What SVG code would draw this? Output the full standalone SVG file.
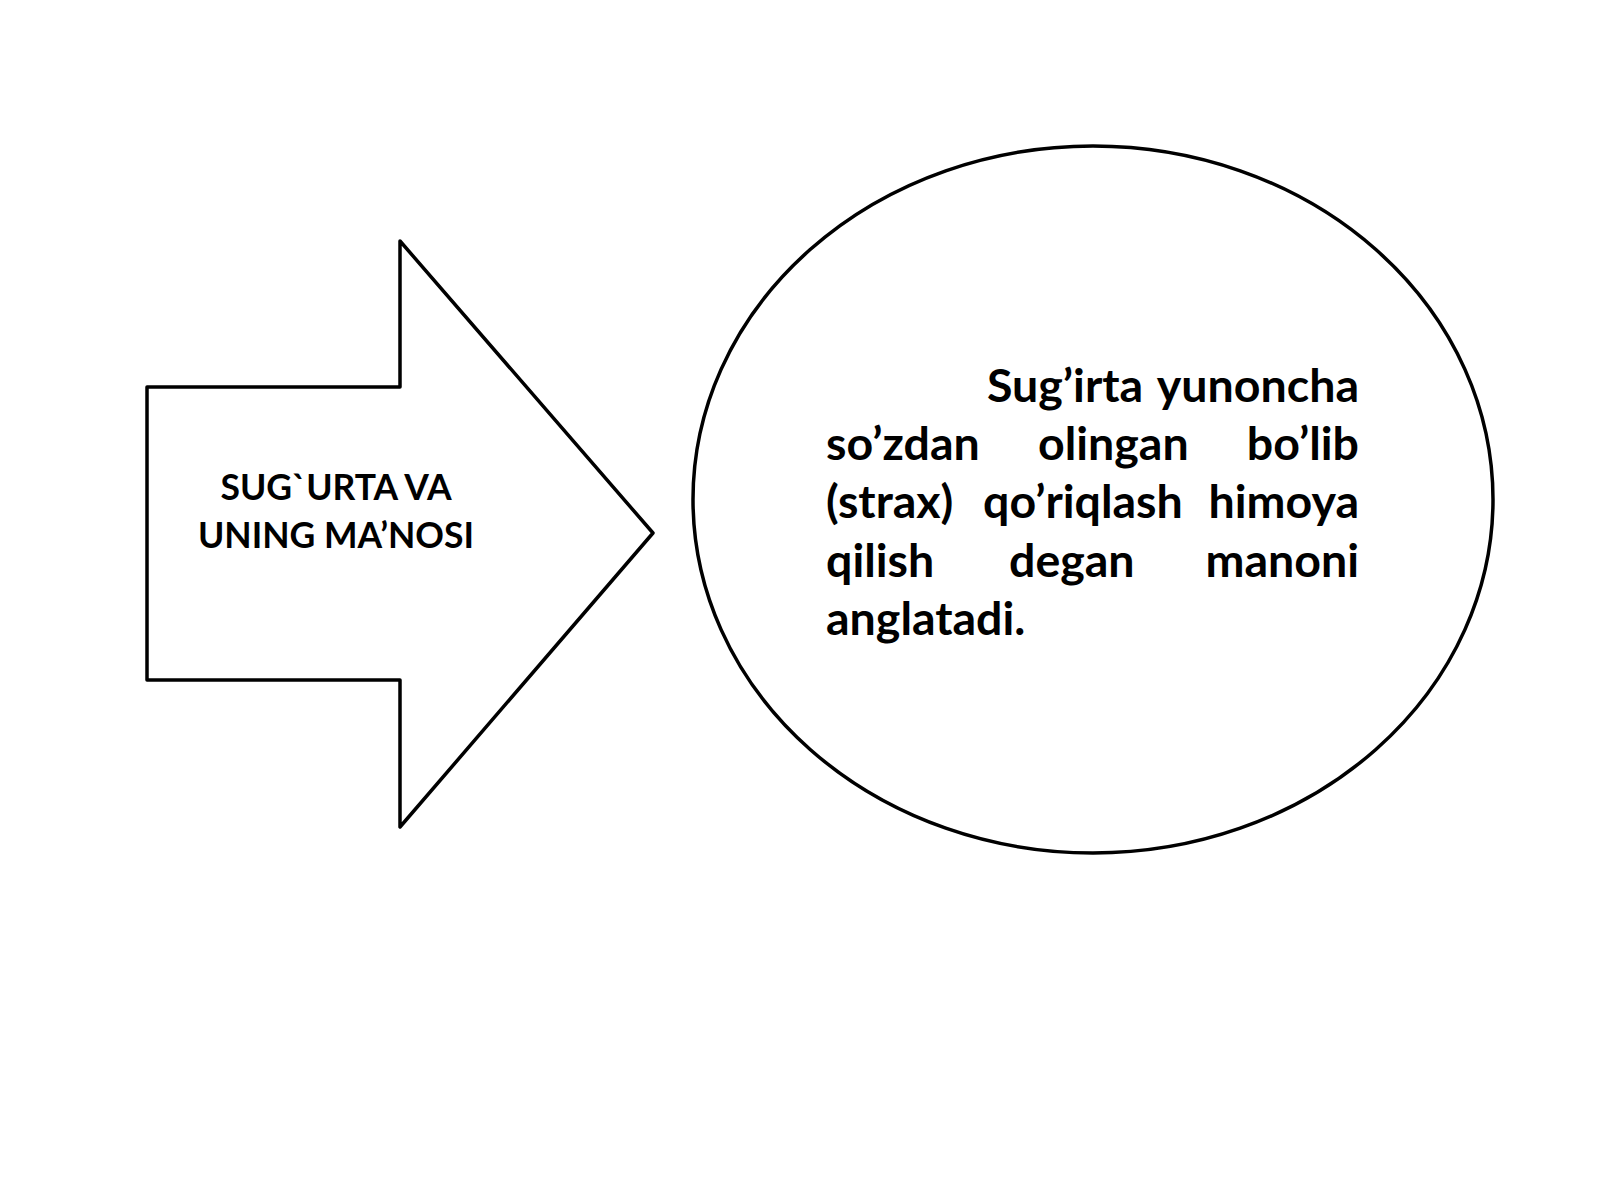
<svg xmlns="http://www.w3.org/2000/svg" width="1600" height="1200" viewBox="0 0 1600 1200">
<style>
.shape{fill:#ffffff;stroke:#000000;stroke-width:3.5;stroke-linejoin:round}
.lbl{font-family:Lato,"Liberation Sans",sans-serif;font-weight:bold;fill:#000000}
.l1{font-size:35.5px}
.l2{font-size:46.5px}
</style>
<rect width="1600" height="1200" fill="#ffffff"/>
<g id="arrow">
<polygon class="shape" points="147,387 400,387 400,241 653,533 400,827 400,680 147,680"/>
<text class="lbl l1" x="336" y="500" text-anchor="middle">SUG`URTA VA</text>
<text class="lbl l1" x="336" y="548" text-anchor="middle">UNING MA’NOSI</text>
</g>
<g id="connectors"></g>
<g id="ellipse">
<ellipse class="shape" cx="1093" cy="499.5" rx="400" ry="353.5"/>
<text class="lbl l2" x="987" y="402">Sug’irta</text>
<text class="lbl l2" x="1359" y="402" text-anchor="end">yunoncha</text>
<text class="lbl l2" x="826" y="460">so’zdan</text>
<text class="lbl l2" x="1038" y="460">olingan</text>
<text class="lbl l2" x="1359" y="460" text-anchor="end">bo’lib</text>
<text class="lbl l2" x="826" y="518">(strax)</text>
<text class="lbl l2" x="983" y="518">qo’riqlash</text>
<text class="lbl l2" x="1359" y="518" text-anchor="end">himoya</text>
<text class="lbl l2" x="826" y="577">qilish</text>
<text class="lbl l2" x="1009" y="577">degan</text>
<text class="lbl l2" x="1359" y="577" text-anchor="end">manoni</text>
<text class="lbl l2" x="826" y="635">anglatadi.</text>
</g>
</svg>
